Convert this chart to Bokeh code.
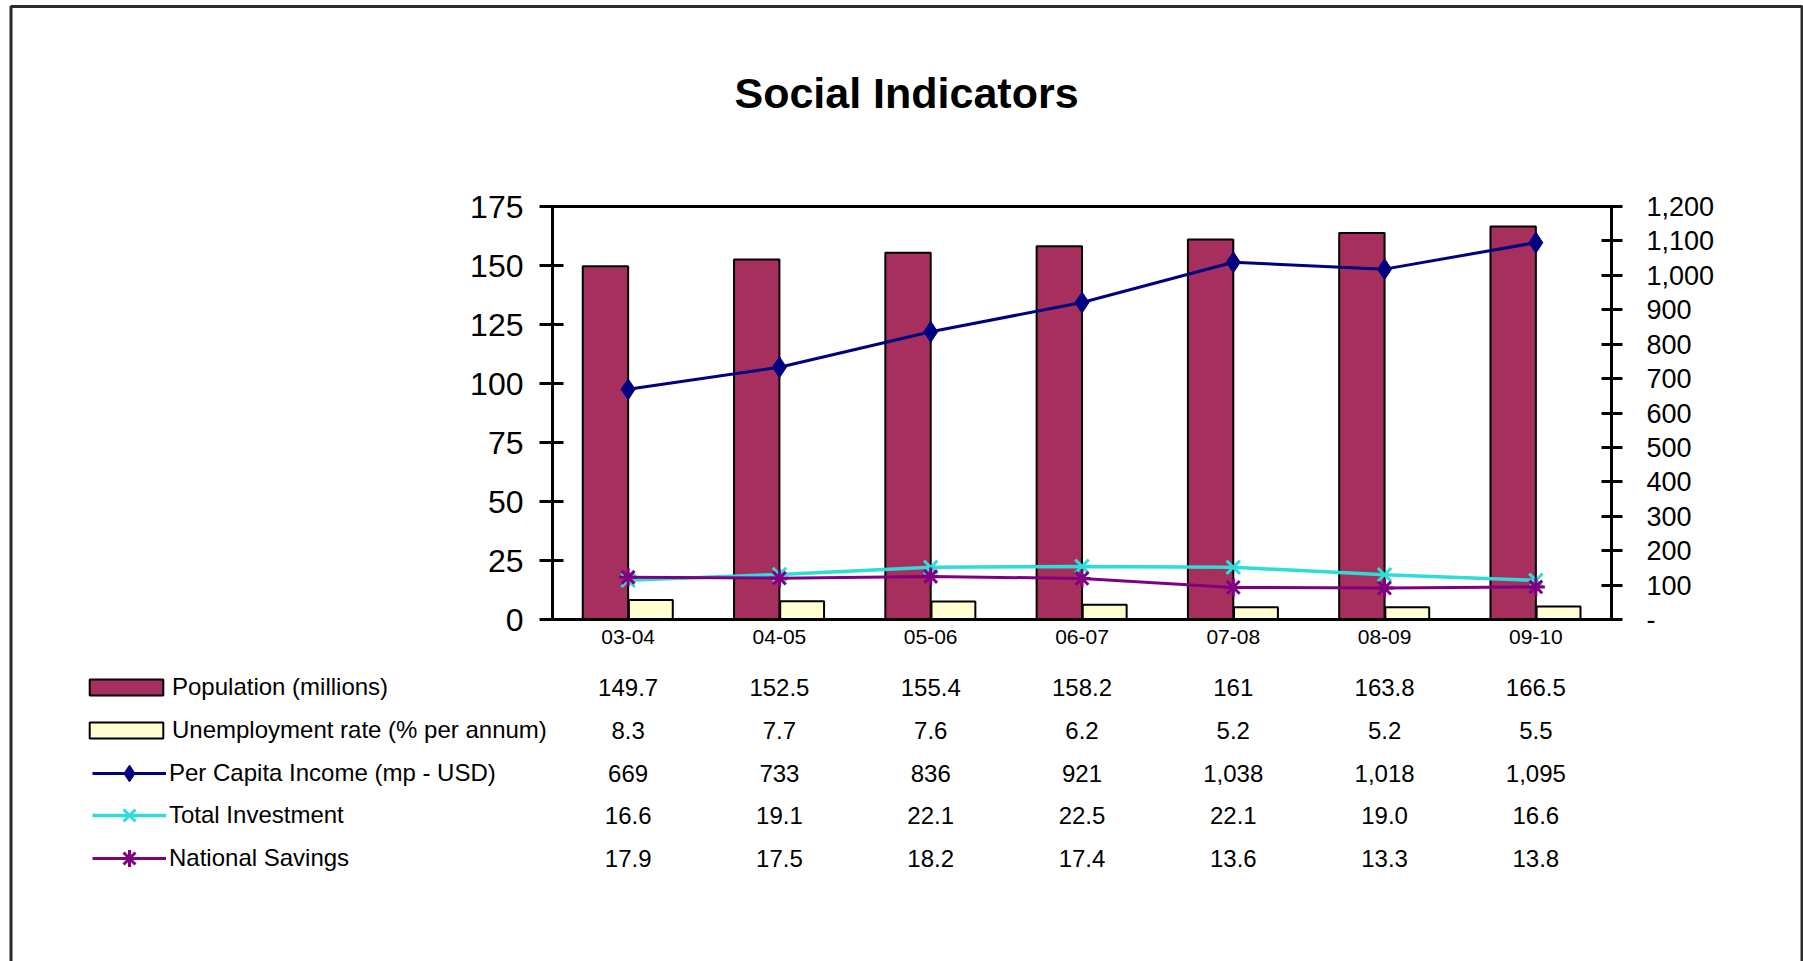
from bokeh.plotting import figure
from bokeh.models import (Range1d, LinearAxis, FixedTicker, NumeralTickFormatter, Label,
                          ColumnDataSource, Legend, LegendItem, BoxAnnotation,
                          CustomJSTickFormatter)
from bokeh.core.properties import value
from bokeh.embed import file_html
from bokeh.resources import INLINE

# ---------------- data ----------------
categories = ["03-04", "04-05", "05-06", "06-07", "07-08", "08-09", "09-10"]
population = [149.7, 152.5, 155.4, 158.2, 161, 163.8, 166.5]
unemployment = [8.3, 7.7, 7.6, 6.2, 5.2, 5.2, 5.5]
per_capita_income = [669, 733, 836, 921, 1038, 1018, 1095]
total_investment = [16.6, 19.1, 22.1, 22.5, 22.1, 19.0, 16.6]
national_savings = [17.9, 17.5, 18.2, 17.4, 13.6, 13.3, 13.8]
left_ticks = [0, 25, 50, 75, 100, 125, 150, 175]
right_ticks = [0, 100, 200, 300, 400, 500, 600, 700, 800, 900, 1000, 1100, 1200]
series_names = ["Population (millions)", "Unemployment rate (% per annum)",
                "Per Capita Income (mp - USD)", "Total Investment", "National Savings"]
title_text = "Social Indicators"

# ---------------- layout (pixels) ----------------
W, H = 1803, 961
FL, FR, FT, FB = 552, 1611, 206, 619      # chart area inside the canvas
LEFT_MAX, RIGHT_MAX = 175, 1200
NC = len(categories)
cat_px = (FR - FL) / NC
ppu = (FB - FT) / LEFT_MAX
FONT = "Liberation Sans"
POP_COLOR = "#A62F5E"
UNEMP_COLOR = "#FFFFD2"
PCI_COLOR = "#000080"
INV_COLOR = "#2EDCDA"
SAV_COLOR = "#800080"


def px_x(px):
    return (px - FL) / cat_px


def px_y(py):
    return (FB - py) / ppu


p = figure(width=W, height=H,
           x_range=Range1d(px_x(0), px_x(W)), y_range=Range1d(px_y(H), px_y(0)),
           output_backend="svg", toolbar_location=None,
           min_border=0, min_border_left=0, min_border_right=0,
           min_border_top=0, min_border_bottom=0,
           background_fill_color="white", border_fill_color="white",
           outline_line_color=None)
p.title.visible = False
p.xgrid.visible = False
p.ygrid.visible = False
k = RIGHT_MAX / LEFT_MAX
p.extra_y_ranges = {"pci": Range1d(px_y(H) * k, px_y(0) * k)}

# left axis
ya = p.yaxis[0]
ya.fixed_location = 0
ya.bounds = (0, LEFT_MAX)
ya.ticker = FixedTicker(ticks=left_ticks)
ya.major_label_text_font = FONT
ya.major_label_text_font_size = "32px"
ya.major_label_text_color = "black"
ya.axis_line_width = 3
ya.major_tick_line_width = 3
ya.major_tick_in = 11
ya.major_tick_out = 13
ya.minor_tick_line_color = None
ya.major_label_standoff = 16

# right axis
ra = LinearAxis(y_range_name="pci", ticker=FixedTicker(ticks=right_ticks),
                formatter=NumeralTickFormatter(format="0,0"),
                major_label_overrides={0: "-"}, fixed_location=NC, bounds=(0, RIGHT_MAX))
ra.major_label_text_font = FONT
ra.major_label_text_font_size = "27px"
ra.major_label_text_color = "black"
ra.axis_line_width = 3
ra.major_tick_line_width = 3
ra.major_tick_in = 10
ra.major_tick_out = 11
ra.minor_tick_line_color = None
ra.major_label_standoff = 24
p.add_layout(ra, "right")

# bottom (category) axis
xa = p.xaxis[0]
xa.fixed_location = 0
xa.bounds = (0, NC)
xa.ticker = FixedTicker(ticks=[i + 0.5 for i in range(NC)])
xa.formatter = CustomJSTickFormatter(args=dict(cats=categories),
                                     code="return cats[Math.round(tick - 0.5)] || '';")
xa.major_label_text_font = FONT
xa.major_label_text_font_size = "21px"
xa.major_label_text_color = "black"
xa.axis_line_width = 3
xa.major_tick_line_color = None
xa.minor_tick_line_color = None
xa.major_tick_out = 0
xa.major_tick_in = 0
xa.major_label_standoff = 10

# top frame line
ta = LinearAxis(fixed_location=LEFT_MAX, bounds=(0, NC), ticker=FixedTicker(ticks=[]),
                axis_line_width=3, major_tick_line_color=None, minor_tick_line_color=None)
p.add_layout(ta, "above")

src = ColumnDataSource(dict(cat=categories, xc=[i + 0.5 for i in range(NC)],
                            xpop=[i + 0.5 - 0.15 for i in range(NC)],
                            xun=[i + 0.5 + 0.15 for i in range(NC)],
                            pop=population, unemp=unemployment,
                            pci=per_capita_income, inv=total_investment, sav=national_savings))

r_pop = p.vbar(x="xpop", top="pop", width=0.30, source=src,
               fill_color=POP_COLOR, line_color="black", line_width=2)
r_un = p.vbar(x="xun", top="unemp", width=0.29, source=src,
              fill_color=UNEMP_COLOR, line_color="black", line_width=2)

r_pci_l = p.line("xc", "pci", source=src, y_range_name="pci", line_color=PCI_COLOR, line_width=3)
r_pci_m = p.scatter("xc", "pci", source=src, y_range_name="pci", marker="diamond", size=21,
                    fill_color=PCI_COLOR, line_color=PCI_COLOR)
r_inv_l = p.line("xc", "inv", source=src, line_color=INV_COLOR, line_width=3.5)
r_inv_m = p.scatter("xc", "inv", source=src, marker="x", size=19, line_color=INV_COLOR, line_width=3)
r_sav_l = p.line("xc", "sav", source=src, line_color=SAV_COLOR, line_width=3)
r_sav_m = p.scatter("xc", "sav", source=src, marker="asterisk", size=18, line_color=SAV_COLOR, line_width=3)

# ---------------- legend rows (one legend per row) ----------------
ROW0, ROWSTEP = 687, 42.75
LEG_X = 92
legend_specs = [
    (series_names[0], [r_pop], "bar"),
    (series_names[1], [r_un], "bar"),
    (series_names[2], [r_pci_l, r_pci_m], "line"),
    (series_names[3], [r_inv_l, r_inv_m], "line"),
    (series_names[4], [r_sav_l, r_sav_m], "line"),
]
for i, (name, rends, kind) in enumerate(legend_specs):
    cy = ROW0 + i * ROWSTEP
    if kind == "bar":
        gw, gh = 92, 20
        x0 = LEG_X - 12
        standoff = 0
        box_h = 28            # label text is taller than the glyph box
    else:
        gw, gh = 74, 42
        x0 = LEG_X
        standoff = 3
        box_h = gh
    leg = Legend(items=[LegendItem(label=name, renderers=rends)],
                 location=(x0, H - (cy + box_h / 2)),
                 padding=0, margin=0, spacing=0,
                 border_line_color=None, background_fill_alpha=0,
                 glyph_width=gw, glyph_height=gh, label_height=gh,
                 label_standoff=standoff,
                 label_text_font=FONT, label_text_font_size="24px",
                 label_text_color="black", label_text_baseline="middle")
    p.add_layout(leg)

# ---------------- data table values ----------------
rows = [population, unemployment, per_capita_income, total_investment, national_savings]
fmts = [lambda v: f"{v:g}", lambda v: f"{v:g}", lambda v: f"{v:,}",
        lambda v: f"{v:.1f}", lambda v: f"{v:.1f}"]
tx, ty, tt = [], [], []
for i, (vals, f) in enumerate(zip(rows, fmts)):
    for j, v in enumerate(vals):
        tx.append(j + 0.5)
        ty.append(px_y(ROW0 + i * ROWSTEP))
        tt.append(f(v))
tsrc = ColumnDataSource(dict(x=tx, y=ty, text=tt))
p.text(x="x", y="y", text="text", source=tsrc, text_align="center", text_baseline="middle",
       text_font=value(FONT), text_font_size=value("24px"), text_color="black")

# ---------------- title ----------------
p.add_layout(Label(x=906, y=H - 92, x_units="screen", y_units="screen",
                   text=title_text, text_font=FONT, text_font_style="bold",
                   text_font_size="43px", text_align="center", text_baseline="middle",
                   text_color="black"))

# ---------------- outer frame ----------------
p.add_layout(BoxAnnotation(left=px_x(10.5), right=px_x(1801.5), top=px_y(6), bottom=px_y(1010),
                           fill_alpha=0, line_color="#2b2b2b", line_alpha=1.0, line_width=3))

open("out.html", "w").write(file_html(p, INLINE))
